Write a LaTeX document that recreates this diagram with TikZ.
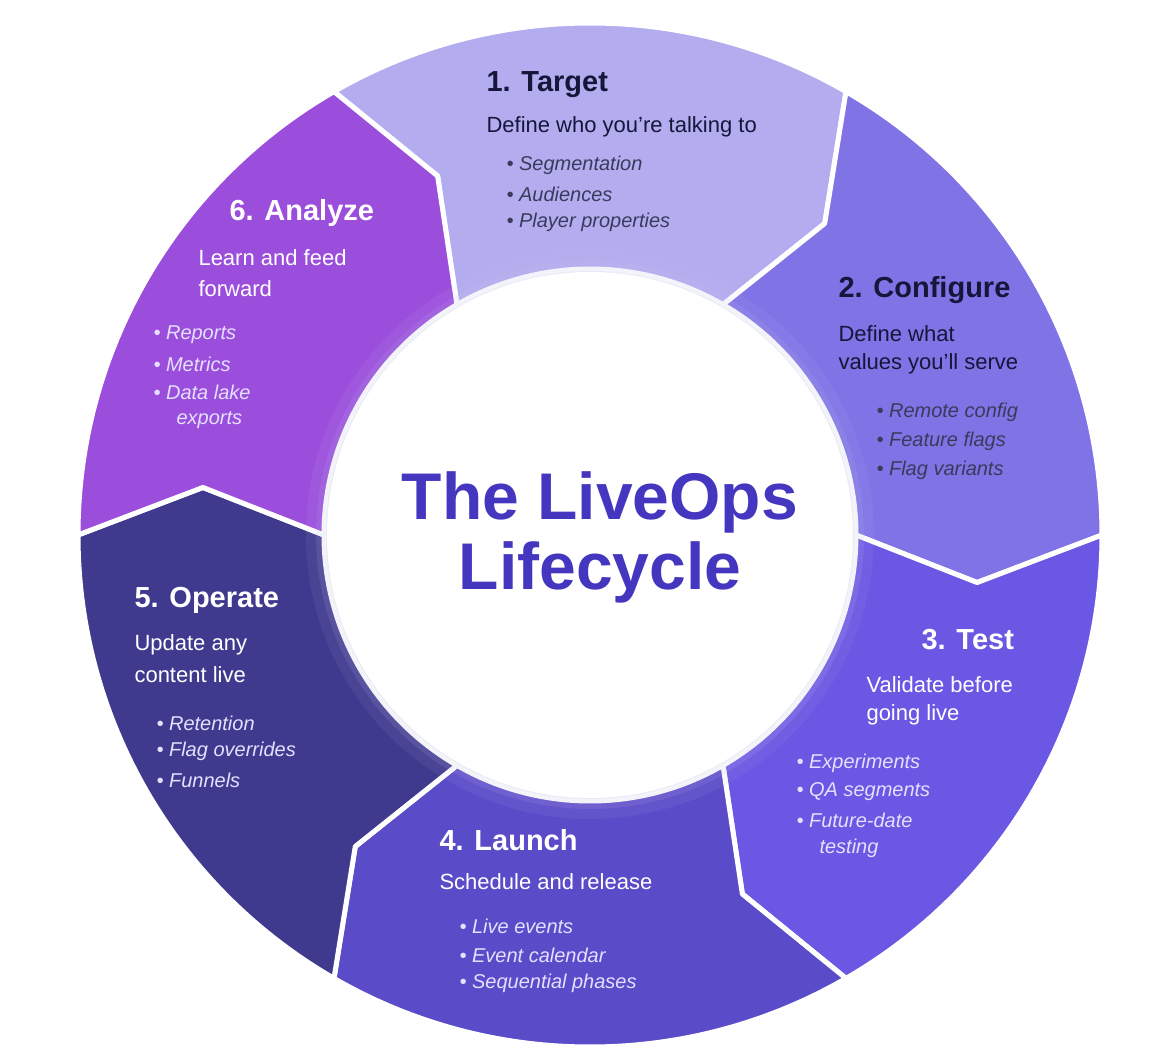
\documentclass[tikz,border=0pt]{standalone}
\usepackage{fontspec}
\setmainfont{Liberation Sans}
\definecolor{cA}{HTML}{B3ADF0}
\definecolor{cB}{HTML}{7F73E6}
\definecolor{cC}{HTML}{6A57E3}
\definecolor{cD}{HTML}{5A4BC9}
\definecolor{cE}{HTML}{403A8E}
\definecolor{cF}{HTML}{9B4EDC}
\definecolor{dark}{HTML}{16163A}
\definecolor{bdark}{HTML}{3A3A5C}
\definecolor{blight}{HTML}{E4E0FF}
\definecolor{ttl}{HTML}{4536C0}
\newcommand\R{512}
\newcommand\Rm{390}
\newcommand\ri{266}
\newcommand\lcseg[3]{%
  \pgfmathsetmacro\ta{#1-7}\pgfmathsetmacro\tb{#2-7}%
  \fill[#3,draw=white,line width=5pt,line join=round] (#1:\R) arc[start angle=#1,end angle=#2,radius=\R] -- (\tb:\Rm) -- (#2:\ri) arc[start angle=#2,end angle=#1,radius=\ri] -- (\ta:\Rm) -- cycle;}
\tikzset{
  hd/.style={anchor=west,font=\fontsize{29}{33}\selectfont\bfseries},
  bd/.style={anchor=west,font=\fontsize{22}{26}\selectfont},
  bl/.style={anchor=west,font=\fontsize{20}{24}\selectfont\itshape},
}
\begin{document}
\begin{tikzpicture}[x=1pt,y=1pt]
\useasboundingbox (-590,535) rectangle (573,-523);
\fill[white] (-590,535) rectangle (573,-523);
\lcseg{120}{60}{cA}
\lcseg{60}{0}{cB}
\lcseg{0}{-60}{cC}
\lcseg{-60}{-120}{cD}
\lcseg{-120}{-180}{cE}
\lcseg{180}{120}{cF}
\foreach \w/\o in {30/0.08,20/0.12,10/0.2}{\fill[ttl!30,opacity=\o] (0,0) circle (\ri+\w-12);}
\fill[white] (0,0) circle (\ri-3);
\node[font=\fontsize{66}{70}\selectfont\bfseries,text=ttl] (t1) at (10,33) {The LiveOps};
\node[font=\fontsize{66}{70}\selectfont\bfseries,text=ttl] (t2) at (10,-37) {Lifecycle};
% 1
\begin{scope}[text=dark]
\node[hd] (h1) at (-107,450) {1. Target};
\node[bd] (b1) at (-107,408) {Define who you're talking to};
\node[bl,text=bdark] (l11) at (-87,370) {\textbullet~Segmentation};
\node[bl,text=bdark] (l12) at (-87,341) {\textbullet~Audiences};
\node[bl,text=bdark] (l13) at (-87,313) {\textbullet~Player properties};
\node[hd] (h2) at (245,245) {2. Configure};
\node[bd] (b2a) at (245,201) {Define what};
\node[bd] (b2b) at (245,171) {values you'll serve};
\node[bl,text=bdark] (l21) at (283,123) {\textbullet~Remote config};
\node[bl,text=bdark] (l22) at (283,94) {\textbullet~Feature flags};
\node[bl,text=bdark] (l23) at (283,65) {\textbullet~Flag variants};
\end{scope}
\begin{scope}[text=white]
\node[hd] (h3) at (328,-105) {3. Test};
\node[bd] (b3a) at (273,-150) {Validate before};
\node[bd] (b3b) at (273,-180) {going live};
\node[bl,text=blight] (l31) at (203,-228) {\textbullet~Experiments};
\node[bl,text=blight] (l32) at (203,-257) {\textbullet~QA segments};
\node[bl,text=blight] (l33) at (203,-285) {\textbullet~Future-date};
\node[bl,text=blight] (l34) at (226,-313) {testing};
\node[hd] (h4) at (-154,-305) {4. Launch};
\node[bd] (b4) at (-154,-347) {Schedule and release};
\node[bl,text=blight] (l41) at (-134,-391) {\textbullet~Live events};
\node[bl,text=blight] (l42) at (-134,-420) {\textbullet~Event calendar};
\node[bl,text=blight] (l43) at (-134,-448) {\textbullet~Sequential phases};
\node[hd] (h5) at (-459,-65) {5. Operate};
\node[bd] (b5a) at (-459,-110) {Update any};
\node[bd] (b5b) at (-459,-140) {content live};
\node[bl,text=blight] (l51) at (-437,-188) {\textbullet~Retention};
\node[bl,text=blight] (l52) at (-437,-216) {\textbullet~Flag overrides};
\node[bl,text=blight] (l53) at (-437,-245) {\textbullet~Funnels};
\node[hd] (h6) at (-364,322) {6. Analyze};
\node[bd] (b6a) at (-395,277) {Learn and feed};
\node[bd] (b6b) at (-395,246) {forward};
\node[bl,text=blight] (l61) at (-440,200) {\textbullet~Reports};
\node[bl,text=blight] (l62) at (-440,171) {\textbullet~Metrics};
\node[bl,text=blight] (l63) at (-440,143) {\textbullet~Data lake};
\node[bl,text=blight] (l64) at (-417,115) {exports};
\end{scope}
\end{tikzpicture}
\end{document}
